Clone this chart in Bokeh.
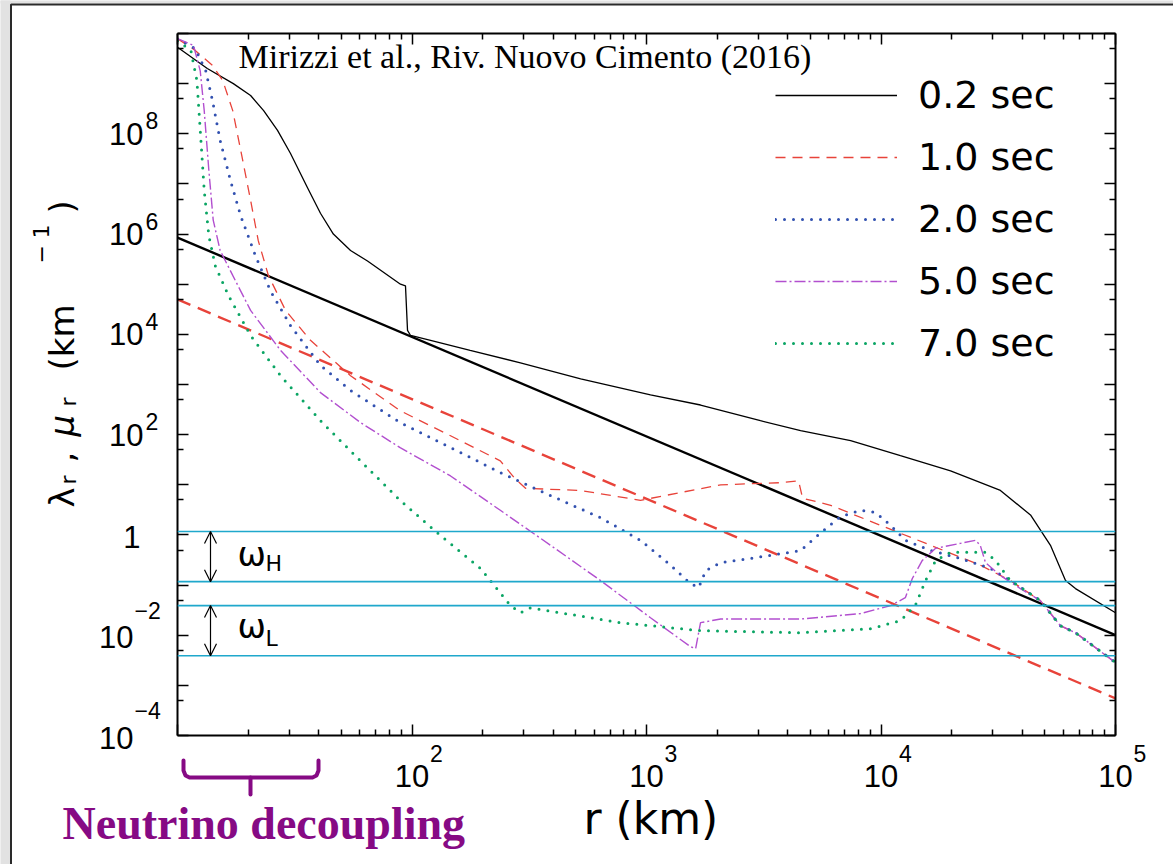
import math
from bokeh.plotting import figure
from bokeh.models import Span, Arrow, OpenHead, FixedTicker, LogAxis, Legend, LegendItem
from bokeh.core.properties import value
from bokeh.embed import file_html
from bokeh.resources import INLINE

# ---------------- data ----------------
r_02 = [10, 13.4, 17.3, 20.5, 23.3, 26.7, 30.3, 35.8, 40.7, 46.2, 54.7, 64.6, 89.3, 93.8, 95.7, 98.6,
        120, 177, 290, 524, 1040, 1700, 3060, 4540, 7420, 12100, 19800, 32300, 43400, 52800, 61200,
        67500, 100000]
lam_02 = [5.3e9, 2.0e9, 1.0e9, 5.8e8, 2.9e8, 1.17e8, 4.1e7, 8.5e6, 2.6e6, 1.0e6, 4.7e5, 2.9e5, 1.0e5,
          9.3e4, 1.2e4, 9.5e3, 7.6e3, 4.8e3, 2.7e3, 1.3e3, 6.2e2, 3.9e2, 190, 120, 76, 38, 19, 7.7, 2.5,
          0.62, 0.123, 0.085, 0.028]

r_10 = [10, 11.9, 14.1, 15.6, 17.2, 18.6, 20.5, 22.1, 24.4, 28.9, 36.9, 54.7, 89, 146, 238, 276, 305,
        524, 943, 1396, 2070, 3730, 4450, 4630, 6100, 9960, 16300, 26500, 35600, 47800, 58200, 67500,
        100000]
lam_10 = [7.9e9, 4.6e9, 2.3e9, 1.15e9, 2.9e8, 4.7e7, 4.7e6, 7.4e5, 1.5e5, 3.0e4, 7.6e3, 1.5e3, 300, 95,
          30, 13, 8.5, 7.7, 4.9, 7, 10, 11, 12, 5.4, 3.9, 1.55, 0.62, 0.25, 0.123, 0.049, 0.0155,
          0.0112, 2.85e-3]

r_20 = [10, 11.9, 13.2, 14.1, 15.2, 16.8, 18.6, 21.5, 24.9, 30.3, 40.7, 54.7, 89, 146, 238, 390, 637,
        943, 1265, 1540, 1670, 1790, 2070, 3380, 4540, 5530, 6710, 8180, 9490, 11000, 12700, 16300,
        21800, 29300, 35600, 47800, 58200, 67500, 100000]
lam_20 = [7.9e9, 5e9, 1.8e9, 4.6e8, 7.4e7, 1.2e7, 2.3e6, 3.7e5, 7.4e4, 1.5e4, 2.4e3, 760, 174, 55, 17.6,
          6.1, 2.2, 0.78, 0.25, 0.107, 0.089, 0.195, 0.28, 0.39, 0.49, 1.1, 2.3, 3.1, 2.8, 1.55, 0.78,
          0.49, 0.34, 0.215, 0.123, 0.049, 0.0155, 0.0112, 2.85e-3]

r_50 = [10, 11.7, 12.5, 13.0, 13.6, 14.2, 15.2, 17.2, 20.5, 27.5, 40.7, 60.3, 89, 146, 238, 390, 637,
        1040, 1540, 1620, 1700, 2070, 4540, 8180, 11000, 12700, 13600, 15000, 17100, 21800, 25300,
        26500, 27900, 32300, 39300, 47800, 58200, 67500, 100000]
lam_50 = [7.9e9, 5.8e9, 1.8e9, 2.9e8, 1.9e7, 1.9e6, 4.7e5, 1.5e5, 3e4, 4.8e3, 690, 174, 55, 15, 3.1,
          0.62, 0.123, 0.0223, 5.9e-3, 5.4e-3, 0.0178, 0.021, 0.021, 0.027, 0.039, 0.056, 0.135, 0.31,
          0.54, 0.68, 0.78, 0.62, 0.28, 0.155, 0.085, 0.049, 0.0155, 0.0112, 2.85e-3]

r_70 = [10, 11.4, 12.1, 12.5, 13.0, 13.6, 14.5, 16.5, 20.5, 27.5, 40.7, 60.3, 89, 132, 196, 263, 290,
        320, 430, 774, 1700, 4540, 9020, 12100, 14000, 15500, 17100, 19800, 27900, 30800, 35600,
        47800, 58200, 67500, 100000]
lam_70 = [7.2e9, 4.6e9, 1.15e9, 1.2e8, 7.4e6, 9.3e5, 2.3e5, 5.9e4, 9.5e3, 1.5e3, 190, 30, 4.9, 0.98,
          0.215, 0.039, 0.028, 0.035, 0.028, 0.0178, 0.0123, 0.0112, 0.0135, 0.0195, 0.039, 0.123,
          0.31, 0.45, 0.45, 0.31, 0.123, 0.049, 0.0155, 0.0112, 2.85e-3]

r_thick = [10, 100000]
lam_thick_black = [8.5e5, 1.0e-2]
lam_thick_red = [5.0e4, 5.5e-4]

omega_H = [1.17, 0.117]
omega_L = [0.039, 0.0039]

series_labels = ["0.2 sec", "1.0 sec", "2.0 sec", "5.0 sec", "7.0 sec"]

x_label_vals = [1e2, 1e3, 1e4, 1e5]
x_label_exps = ["2", "3", "4", "5"]
y_label_vals = [1e-4, 1e-2, 1e2, 1e4, 1e6, 1e8]
y_label_exps = ["−4", "−2", "2", "4", "6", "8"]
y_label_one = [1.0]

x_major = [10.0 ** e for e in range(1, 6)]
x_minor = [m * 10.0 ** e for e in range(1, 5) for m in range(2, 10)]
y_major = [10.0 ** e for e in range(-4, 11)]
y_minor = [5 * 10.0 ** e for e in range(-5, 10)]

# ---------------- geometry helpers (page pixels -> data, for decorations) ----------------
FL, FT, FW, FH = 177, 33, 938, 702
XLOG0, XDEC = 1.0, 4.0
YLOG1, YDEC = 10.0, 14.0
TFIX = 12  # text glyph baseline correction in px


def X(px):
    return 10 ** (XLOG0 + (px - FL) / FW * XDEC)


def Y(py):
    return 10 ** (YLOG1 - (py - FT) / FH * YDEC)


def dy(v, dpx):
    """value shifted by dpx screen pixels downward"""
    return v * 10 ** (-dpx * YDEC / FH)


RED = "#e8433a"
BLUE = "#3251b0"
PURPLE = "#b24fcf"
GREEN = "#0aa564"
CYAN = "#1fa8cc"
BRACKET = "#860a84"
SANS = "DejaVu Sans"
NUM = "Liberation Sans"

p = figure(x_axis_type="log", y_axis_type="log", x_range=(10, 1e5), y_range=(1e-4, 1e10),
           frame_width=FW, frame_height=FH, min_border_left=FL, min_border_right=58,
           min_border_top=FT, min_border_bottom=129, toolbar_location=None,
           output_backend="svg", background_fill_color="white", border_fill_color="white")
p.outline_line_color = None
p.grid.visible = False

p.add_layout(LogAxis(), "above")
p.add_layout(LogAxis(), "right")

for ax in list(p.xaxis) + list(p.yaxis):
    ax.axis_line_width = 2
    ax.axis_line_color = "black"
    ax.major_tick_in = 11
    ax.major_tick_out = 0
    ax.minor_tick_in = 6
    ax.minor_tick_out = 0
    ax.major_tick_line_width = 1.5
    ax.minor_tick_line_width = 1.5
    ax.major_tick_line_color = "black"
    ax.minor_tick_line_color = "black"
    ax.major_label_text_color = None
    ax.major_label_text_font_size = "8px"
for ax in p.xaxis:
    ax.ticker = FixedTicker(ticks=x_major, minor_ticks=x_minor)
for ax in p.yaxis:
    ax.ticker = FixedTicker(ticks=y_major, minor_ticks=y_minor)

# omega bands
for v in omega_H + omega_L:
    p.add_layout(Span(location=v, dimension="width", line_color=CYAN, line_width=1.6))

# thick reference lines
p.line(r_thick, lam_thick_black, line_color="black", line_width=2.4)
p.line(r_thick, lam_thick_red, line_color=RED, line_width=2.4, line_dash="14 8")

# curves
r02 = p.line(r_02, lam_02, line_color="black", line_width=1.3)
r10 = p.line(r_10, lam_10, line_color=RED, line_width=1.3, line_dash="10 7")
r20 = p.line(r_20, lam_20, line_color=BLUE, line_width=3, line_dash="0 9", line_cap="round")
r50 = p.line(r_50, lam_50, line_color=PURPLE, line_width=1.4, line_dash="11 3 2 3")
r70 = p.line(r_70, lam_70, line_color=GREEN, line_width=3, line_dash="0 9", line_cap="round")

legend = Legend(items=[LegendItem(label=l, renderers=[r]) for l, r in
                       zip(series_labels, [r02, r10, r20, r50, r70])],
                location=(598, 369), border_line_color=None, background_fill_alpha=0,
                glyph_width=122, glyph_height=46, label_height=46, label_standoff=21,
                spacing=16, padding=0, margin=0, label_text_font=SANS,
                label_text_font_size="38px", label_text_color="black")
p.add_layout(legend)

# arrows for omega ranges
for pair in (omega_H, omega_L):
    p.add_layout(Arrow(start=OpenHead(size=12, line_width=1.2), end=OpenHead(size=12, line_width=1.2),
                       x_start=X(210), y_start=pair[0], x_end=X(210), y_end=pair[1],
                       line_width=1.2, line_color="black"))


def texts(xs, ys, ts, size, font=SANS, align="left", color="black", style="normal", angle=0.0,
          x_offset=0):
    p.text(x=xs, y=ys, text=ts, text_font=value(font), text_font_size=f"{size}px",
           text_align=align, text_baseline="alphabetic", text_color=color, text_font_style=style,
           angle=angle, x_offset=x_offset, level="overlay")


def txt(t, px, py, size, **kw):
    texts([X(px)], [Y(py - TFIX)], [t], size, **kw)


def vtxt(t, px, py, size, **kw):
    texts([X(px - TFIX)], [Y(py)], [t], size, angle=math.pi / 2, **kw)


# page decoration (outer panel edge)
p.quad(left=[X(0), X(0)], right=[X(10), X(1174)], bottom=[Y(865), Y(3)], top=[Y(0), Y(0)],
       fill_color="#e2e2e2", line_color=None, level="overlay")
p.line([X(10.5), X(10.5), X(1174)], [Y(865), Y(4), Y(4)], line_color="#2a2a2a", line_width=2,
       level="overlay")

# tick labels (base "10" + superscript exponent)
n = len(x_label_vals)
texts(x_label_vals, [Y(787 - TFIX)] * n, ["10"] * n, 31, font=NUM, align="center")
texts(x_label_vals, [Y(765 - TFIX)] * n, x_label_exps, 23, font=NUM, x_offset=18)
for v, e in zip(y_label_vals, y_label_exps):
    if e.startswith("−"):
        texts([X(133)], [dy(v, 14 - TFIX)], ["10"], 31, font=NUM, align="right")
        texts([X(134)], [dy(v, -13 - TFIX)], [e], 23, font=NUM)
    else:
        texts([X(143)], [dy(v, 12 - TFIX)], ["10"], 31, font=NUM, align="right")
        texts([X(145)], [dy(v, -1 - TFIX)], [e], 23, font=NUM)
texts([X(140)], [dy(y_label_one[0], 14 - TFIX)], ["1"], 31, font=NUM, align="right")

# axis titles
txt("r (km)", 583, 830, 44)
vtxt("λ", 73, 507, 34)
vtxt("r", 80, 484, 22)
vtxt(",", 73, 462, 34)
vtxt("μ", 73, 436, 34, style="italic")
vtxt("r", 80, 406, 22)
vtxt("(km", 73, 370, 34)
vtxt("−", 52, 263, 22)
vtxt("1", 52, 238, 22)
vtxt(")", 73, 213, 34)

# omega labels
txt("ω", 237, 565, 34)
txt("H", 265, 575, 22)
txt("ω", 237, 637, 34)
txt("L", 265, 650, 22)

# citation and decoupling annotation
txt("Mirizzi et al., Riv. Nuovo Cimento (2016)", 238, 68, 34, font="Liberation Serif")
txt("Neutrino decoupling", 62, 835, 46, font="Liberation Serif", color=BRACKET, style="bold")

bx = [183, 183, 185, 189, 312, 316, 318, 318]
by = [760, 770, 775, 777, 777, 775, 770, 760]
p.line([X(v) for v in bx], [Y(v) for v in by], line_color=BRACKET, line_width=4, line_cap="round",
       line_join="round", level="overlay")
p.line([X(250), X(250)], [Y(777), Y(794)], line_color=BRACKET, line_width=4, line_cap="round",
       level="overlay")

open("out.html", "w").write(file_html(p, INLINE))
